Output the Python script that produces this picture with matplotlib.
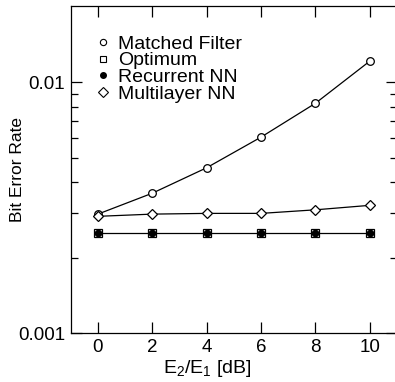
import matplotlib
matplotlib.use("Agg")
import matplotlib.pyplot as plt
from matplotlib.lines import Line2D
from matplotlib.ticker import FixedLocator, NullFormatter

plt.rcParams['font.family'] = ['Liberation Sans', 'DejaVu Sans']
plt.rcParams['mathtext.default'] = 'regular'

# E2/E1 in dB
snr_db = [0, 2, 4, 6, 8, 10]
# bit error rates
matched_filter = [0.00298, 0.00361, 0.00456, 0.00604, 0.00824, 0.01213]
optimum = [0.0025, 0.0025, 0.0025, 0.0025, 0.0025, 0.0025]
recurrent_nn = [0.0025, 0.0025, 0.0025, 0.0025, 0.0025, 0.0025]
multilayer_nn = [0.00292, 0.00298, 0.00300, 0.00300, 0.00310, 0.00323]

legend_labels = ["Matched Filter", "Optimum", "Recurrent NN", "Multilayer NN"]

fig = plt.figure(figsize=(3.95, 3.82), dpi=100)
ax = fig.add_axes([0.179, 0.128, 0.826, 0.856])

ax.plot(snr_db, matched_filter, color='black', lw=0.9, marker='o', ms=5.5,
        mfc='white', mec='black', mew=0.9)
ax.plot(snr_db, optimum, color='black', lw=0.9, marker='s', ms=5.5,
        mfc='white', mec='black', mew=0.9)
ax.plot(snr_db, recurrent_nn, color='black', lw=0, marker='o', ms=4.5,
        mfc='black', mec='black')
ax.plot(snr_db, multilayer_nn, color='black', lw=0.9, marker='D', ms=5.5,
        mfc='white', mec='black', mew=0.9)

ax.set_yscale('log')
ax.set_xlim(-1, 11)
ax.set_ylim(0.001, 0.0201)
ax.set_xticks(snr_db)
ax.yaxis.set_major_locator(FixedLocator([0.001, 0.01]))
ax.set_yticklabels(["0.001", "0.01"])
ax.yaxis.set_minor_locator(FixedLocator([0.002, 0.003, 0.004, 0.005, 0.006,
                                         0.007, 0.008, 0.009]))
ax.yaxis.set_minor_formatter(NullFormatter())
ax.tick_params(which='both', direction='in', top=True, right=True,
               labelsize=13.5, width=0.9)
ax.tick_params(which='major', length=8, pad=4)
ax.tick_params(which='minor', length=5)
for s in ax.spines.values():
    s.set_linewidth(0.9)

ax.set_xlabel(r"E$_2$/E$_1$ [dB]", fontsize=14)
ax.xaxis.set_label_coords(0.42, -0.076)
ax.set_ylabel("Bit Error Rate", fontsize=12.5)
ax.yaxis.set_label_coords(-0.14, 0.5)

handles = [
    Line2D([], [], ls='none', marker='o', ms=4.5, mfc='white', mec='black', mew=0.8),
    Line2D([], [], ls='none', marker='s', ms=4.5, mfc='white', mec='black', mew=0.8),
    Line2D([], [], ls='none', marker='o', ms=4, mfc='black', mec='black'),
    Line2D([], [], ls='none', marker='D', ms=5, mfc='white', mec='black', mew=0.8),
]
ax.legend(handles, legend_labels, loc='upper left', frameon=False, fontsize=14,
          handlelength=0.8, handletextpad=0.4, labelspacing=-0.05,
          borderaxespad=0.0, bbox_to_anchor=(0.05, 0.935))

fig.savefig("out.png", dpi=100)
